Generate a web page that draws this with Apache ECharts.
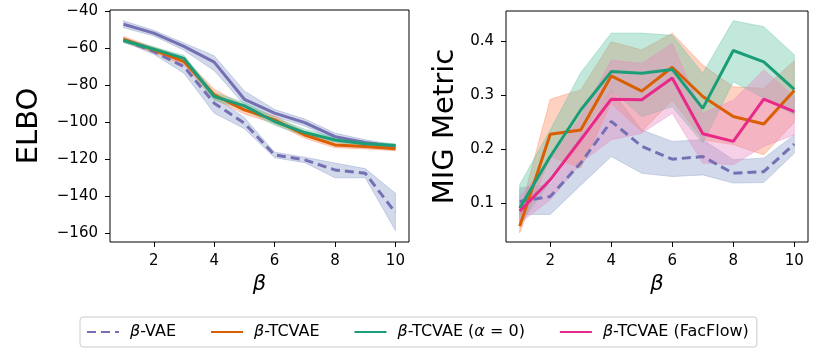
<!DOCTYPE html>
<html>
<head>
<meta charset="utf-8">
<script src="https://cdn.jsdelivr.net/npm/echarts@6/dist/echarts.min.js"></script>
<style>
  html, body { margin: 0; padding: 0; background: #fff; }
  #chart { width: 830px; height: 356px; }
</style>
</head>
<body>
<div id="chart"></div>
<script>
var chart = echarts.init(document.getElementById("chart"));

var betas = [1, 2, 3, 4, 5, 6, 7, 8, 9, 10];
var xTicks = [2, 4, 6, 8, 10];
var elboTicks = [-160, -140, -120, -100, -80, -60, -40];
var migTicks = [0.1, 0.2, 0.3, 0.4];

/* ELBO (left panel) */
var elboTop = [-46.9, -51.7, -58.9, -67.4, -87.5, -95.0, -100.1, -107.7, -110.9, -113.1];
var elboTopLo = [-48.8, -53.2, -61.0, -72.0, -90.5, -97.0, -102.0, -109.6, -112.4, -114.1];
var elboTopHi = [-45.0, -50.2, -57.0, -64.0, -83.0, -93.0, -98.2, -105.8, -109.4, -112.1];

var elboVae = [-55.3, -61.7, -69.8, -89.6, -100.4, -117.6, -120.3, -125.7, -127.5, -148.8];
var elboVaeLo = [-56.3, -63.2, -73.4, -95.0, -103.4, -119.1, -121.8, -130.0, -129.9, -158.5];
var elboVaeHi = [-54.3, -60.2, -68.0, -86.0, -97.4, -116.1, -118.8, -122.0, -125.0, -138.3];

var elboTc = [-55.0, -60.8, -67.1, -85.1, -93.2, -98.6, -106.8, -112.2, -113.1, -114.3];
var elboTcLo = [-56.5, -62.3, -69.0, -87.5, -95.5, -100.6, -108.6, -113.7, -114.4, -115.3];
var elboTcHi = [-53.5, -59.3, -65.2, -82.0, -91.0, -96.6, -105.0, -110.7, -111.8, -113.3];

var elboTc0 = [-55.7, -60.4, -65.4, -86.0, -91.1, -99.5, -105.5, -109.5, -111.6, -112.5];
var elboTc0Lo = [-56.9, -61.6, -67.0, -88.0, -93.0, -101.5, -107.3, -110.8, -112.7, -113.4];
var elboTc0Hi = [-54.5, -59.2, -63.8, -84.0, -89.2, -97.5, -103.7, -108.2, -110.5, -111.6];

/* MIG (right panel) */
var migVae = [0.103, 0.112, 0.174, 0.251, 0.205, 0.181, 0.186, 0.155, 0.158, 0.209];
var migVaeLo = [0.079, 0.079, 0.133, 0.186, 0.155, 0.149, 0.152, 0.137, 0.138, 0.192];
var migVaeHi = [0.128, 0.134, 0.210, 0.309, 0.235, 0.214, 0.217, 0.180, 0.183, 0.226];

var migTc = [0.057, 0.227, 0.235, 0.335, 0.307, 0.351, 0.297, 0.260, 0.246, 0.308];
var migTcLo = [0.045, 0.186, 0.165, 0.284, 0.232, 0.290, 0.217, 0.208, 0.189, 0.249];
var migTcHi = [0.082, 0.292, 0.309, 0.398, 0.383, 0.414, 0.355, 0.315, 0.312, 0.363];

var migTc0 = [0.091, 0.186, 0.272, 0.343, 0.340, 0.347, 0.275, 0.382, 0.361, 0.310];
var migTc0Lo = [0.060, 0.140, 0.223, 0.309, 0.260, 0.278, 0.211, 0.324, 0.294, 0.263];
var migTc0Hi = [0.134, 0.235, 0.341, 0.414, 0.414, 0.410, 0.340, 0.437, 0.426, 0.374];

var migFf = [0.085, 0.143, 0.217, 0.292, 0.291, 0.331, 0.228, 0.214, 0.292, 0.269];
var migFfLo = [0.063, 0.106, 0.174, 0.217, 0.229, 0.266, 0.174, 0.171, 0.205, 0.226];
var migFfHi = [0.112, 0.180, 0.260, 0.364, 0.358, 0.395, 0.266, 0.290, 0.346, 0.297];

var names = ['\u03b2-VAE', '\u03b2-TCVAE', '\u03b2-TCVAE (\u03b1 = 0)', '\u03b2-TCVAE (FacFlow)'];

var purple = '#7570b3', orange = '#d95f02', green = '#1b9e77', pink = '#e7298a';

function pairs(ys) {
    return betas.map(function (b, i) { return [b, ys[i]]; });
}

// shaded band between lo and hi, drawn as one polygon through the axis scales
function band(idx, lo, hi, color) {
    return {
        type: 'custom',
        xAxisIndex: idx,
        yAxisIndex: idx,
        silent: true,
        z: 1,
        data: pairs(lo),
        renderItem: function (params, api) {
            if (params.dataIndex !== 0) return null;
            var pts = [];
            for (var i = 0; i < betas.length; i++) pts.push(api.coord([betas[i], hi[i]]));
            for (var j = betas.length - 1; j >= 0; j--) pts.push(api.coord([betas[j], lo[j]]));
            return {
                type: 'polygon',
                shape: { points: pts },
                style: { fill: color, opacity: 0.4, stroke: color, lineWidth: 1 }
            };
        }
    };
}

function line(idx, name, ys, color, dashed) {
    return {
        type: 'line',
        name: name,
        xAxisIndex: idx,
        yAxisIndex: idx,
        data: pairs(ys),
        symbol: 'none',
        z: 3,
        lineStyle: { color: color, width: 3, type: dashed ? [9, 5] : 'solid' },
        itemStyle: { color: color }
    };
}

function xAxis(idx) {
    return {
        type: 'value',
        gridIndex: idx,
        min: 0.55,
        max: 10.45,
        name: '\u03b2',
        nameLocation: 'middle',
        nameGap: 30,
        nameTextStyle: { fontFamily: 'DejaVu Sans', fontSize: 21, fontStyle: 'italic', color: '#000' },
        axisLine: { show: false },
        splitLine: { show: false },
        axisTick: { show: true, length: 5, customValues: xTicks, lineStyle: { color: '#000' } },
        axisLabel: { customValues: xTicks, margin: 12, fontFamily: 'DejaVu Sans', fontSize: 15, color: '#000' }
    };
}

var option = {
    animation: false,
    backgroundColor: '#fff',
    grid: [
        { left: 110, right: 421, top: 10, bottom: 114, show: true, borderColor: '#000', borderWidth: 1 },
        { left: 506, right: 22, top: 11, bottom: 114, show: true, borderColor: '#000', borderWidth: 1 }
    ],
    legend: {
        data: names,
        left: 80,
        top: 317,
        padding: [7, 8, 7, 6],
        itemGap: 34,
        itemWidth: 32,
        itemHeight: 16,
        borderColor: '#ccc',
        borderWidth: 1,
        borderRadius: 3,
        itemStyle: { opacity: 0 },
        formatter: function (name) {
            return name.replace('\u03b2', '{i|\u03b2}').replace('\u03b1', '{i|\u03b1}');
        },
        textStyle: {
            fontFamily: 'DejaVu Sans', fontSize: 16, color: '#000', padding: [0, 0, 0, 6],
            rich: { i: { fontFamily: 'DejaVu Sans', fontSize: 16, fontStyle: 'italic', color: '#000' } }
        }
    },
    xAxis: [xAxis(0), xAxis(1)],
    yAxis: [{
        type: 'value',
        gridIndex: 0,
        min: -164.7,
        max: -39.2,
        name: 'ELBO',
        nameLocation: 'middle',
        nameGap: 66,
        nameTextStyle: { fontFamily: 'DejaVu Sans', fontSize: 29, color: '#000' },
        axisLine: { show: false },
        splitLine: { show: false },
        axisTick: { show: true, length: 5, customValues: elboTicks, lineStyle: { color: '#000' } },
        axisLabel: {
            customValues: elboTicks, margin: 12, fontFamily: 'DejaVu Sans', fontSize: 15, color: '#000',
            formatter: function (v) { return String(v).replace('-', '\u2212'); }
        }
    }, {
        type: 'value',
        gridIndex: 1,
        min: 0.028,
        max: 0.455,
        name: 'MIG Metric',
        nameLocation: 'middle',
        nameGap: 46,
        nameTextStyle: { fontFamily: 'DejaVu Sans', fontSize: 29, color: '#000' },
        axisLine: { show: false },
        splitLine: { show: false },
        axisTick: { show: true, length: 5, customValues: migTicks, lineStyle: { color: '#000' } },
        axisLabel: {
            customValues: migTicks, margin: 12, fontFamily: 'DejaVu Sans', fontSize: 15, color: '#000',
            formatter: function (v) { return v.toFixed(1); }
        }
    }],
    series: [
        band(0, elboTopLo, elboTopHi, '#8da0cb'),
        band(0, elboVaeLo, elboVaeHi, '#8da0cb'),
        band(0, elboTcLo, elboTcHi, '#fc8d62'),
        band(0, elboTc0Lo, elboTc0Hi, '#66c2a5'),
        line(0, '', elboTop, purple, false),
        line(0, names[0], elboVae, purple, true),
        line(0, names[1], elboTc, orange, false),
        line(0, names[2], elboTc0, green, false),

        band(1, migVaeLo, migVaeHi, '#8da0cb'),
        band(1, migTcLo, migTcHi, '#fc8d62'),
        band(1, migTc0Lo, migTc0Hi, '#66c2a5'),
        band(1, migFfLo, migFfHi, '#e78ac3'),
        line(1, names[0], migVae, purple, true),
        line(1, names[1], migTc, orange, false),
        line(1, names[2], migTc0, green, false),
        line(1, names[3], migFf, pink, false)
    ]
};

chart.setOption(option);

window.onresize = function () {
    chart.resize();
};
</script>
</body>
</html>
